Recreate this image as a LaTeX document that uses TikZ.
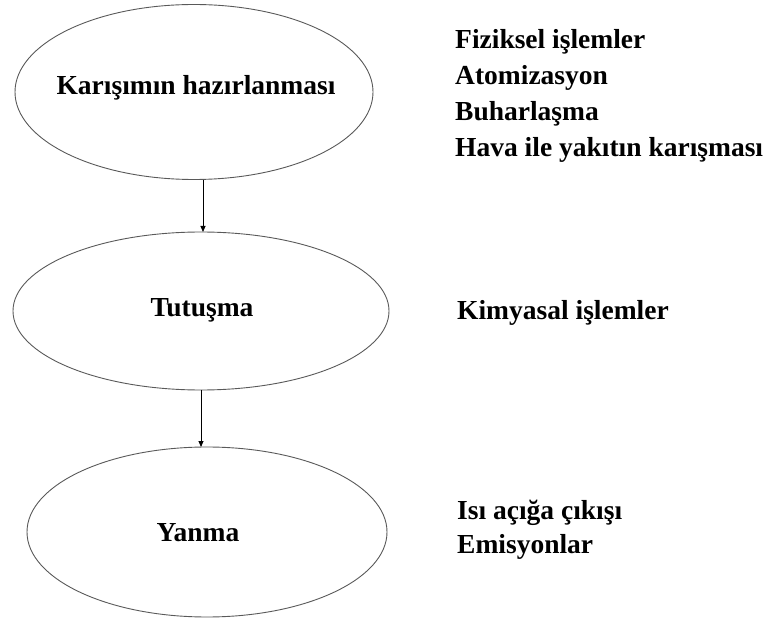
\documentclass[tikz,border=0pt]{standalone}
\usepackage{fontspec}
\setmainfont{Liberation Serif}
\usetikzlibrary{shapes.geometric,arrows.meta}
\begin{document}
\begin{tikzpicture}[x=1pt,y=-1pt,
  stage/.style={ellipse,draw=black!65,line width=0.9pt,inner sep=0pt},
  lbl/.style={font=\fontsize{27.5}{32}\selectfont\bfseries,inner sep=0pt},
  side/.style={font=\fontsize{27.5}{32}\selectfont\bfseries,inner sep=0pt,anchor=west},
  conn/.style={-{Triangle[length=6pt,width=5pt]},line width=0.8pt}]
\useasboundingbox (0,0) rectangle (777,620);
\node[stage,minimum width=358pt,minimum height=175pt] (e1) at (194,92) {};
\node[lbl] (t1) at (196,88) {Karışımın hazırlanması};
\node[stage,minimum width=376pt,minimum height=158pt] (e2) at (201,311) {};
\node[lbl] (t2) at (202,310) {Tutuşma};
\node[stage,minimum width=360pt,minimum height=170pt] (e3) at (207,532) {};
\node[lbl] (t3) at (198,533) {Yanma};
\coordinate (a1s) at (203,180);
\coordinate (a1e) at (203,232);
\coordinate (a2s) at (201,390);
\coordinate (a2e) at (201,447);
\draw[conn] (a1s) -- (a1e);
\draw[conn] (a2s) -- (a2e);
\node[side] (s1) at (455,42) {Fiziksel işlemler};
\node[side] (s2) at (455,78) {Atomizasyon};
\node[side] (s3) at (455,114) {Buharlaşma};
\node[side] (s4) at (455,150) {Hava ile yakıtın karışması};
\node[side] (s5) at (457,313) {Kimyasal işlemler};
\node[side] (s6) at (457,513) {Isı açığa çıkışı};
\node[side] (s7) at (457,547) {Emisyonlar};
\end{tikzpicture}
\end{document}
